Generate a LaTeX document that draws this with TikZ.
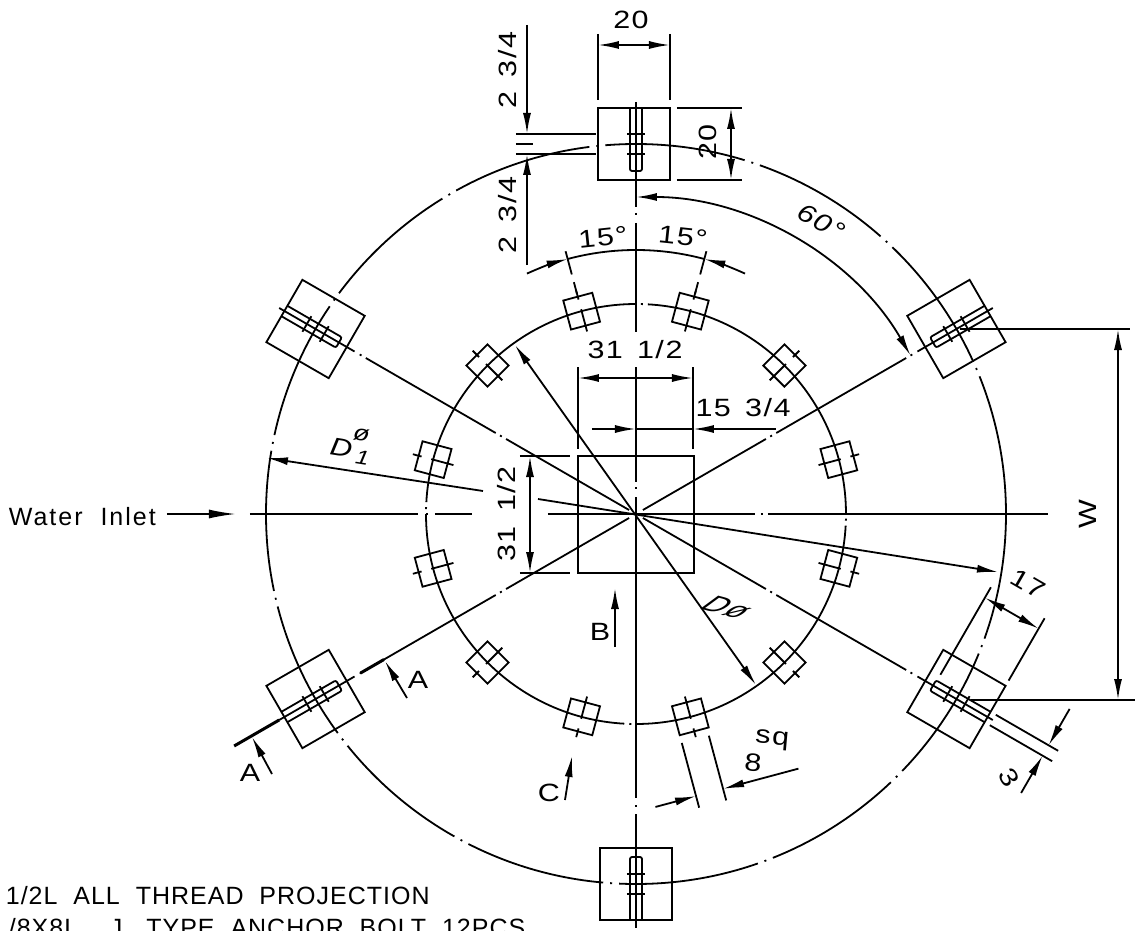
\documentclass[tikz,border=0pt]{standalone}
\usepackage{fontspec}
\setmainfont[FakeStretch=1.22,LetterSpace=6]{Liberation Sans}
\newfontfamily\notefont[LetterSpace=4]{Liberation Sans}
\usetikzlibrary{arrows.meta}

\begin{document}
\begin{tikzpicture}[
  x=1pt, y=1pt,
  line width=1.8pt,
  font=\fontsize{25}{25}\selectfont,
  every node/.style={inner sep=0pt},
  dim/.style={-{Latex[length=21pt,width=8pt]}},
  dimboth/.style={{Latex[length=21pt,width=8pt]}-{Latex[length=21pt,width=8pt]}},
  dashdot/.style={dash pattern=on 141pt off 7pt on 2pt off 7pt},
  dashdotsmall/.style={dash pattern=on 318pt off 5pt on 2pt off 5pt},
  thickend/.style={line width=3pt},
  notetext/.style={anchor=west, font=\notefont\fontsize{25}{25}\selectfont}
]
\useasboundingbox (-636,-416) rectangle (500,514);
\clip (-636,-416) rectangle (500,514);

% circles
\draw[dashdot] (0,0) circle (370pt);
\draw[dashdotsmall] (0,0) circle (210pt);

% base plates
\foreach \ang/\off in {90/2,30/0,150/0,210/0,270/0,330/0}{
  \begin{scope}[rotate=\ang]
    \draw (334,\off-36) rectangle (406,\off+36);
    \draw[rounded corners=2pt] (406,6) -- (343,6) -- (343,-6) -- (406,-6);
    \draw (360,-9) -- (360,9) (380,-9) -- (380,9);
    \draw (325,0) -- (412,0);
  \end{scope}
}
% anchor bolts
\foreach \ang in {15,45,...,345}{
  \begin{scope}[rotate=\ang]
    \draw (195,-15) rectangle (225,15);
    \draw (189,0) -- (212,0) (222,0) -- (231,0);
  \end{scope}
}
% slanted centre lines
\foreach \ang in {30,150,210,330}{
  \draw (\ang:8) -- (\ang:150) (\ang:155) -- (\ang:157) (\ang:162) -- (\ang:312) (\ang:317) -- (\ang:319);
}
\draw[thickend] (210:291) -- (210:318) (210:412) -- (210:464);

% horizontal and vertical centre lines
\draw (-386,0) -- (-218,0) (-210,0) -- (-208,0) (-201,0) -- (-164,0);
\draw (-88,0) -- (119,0) (125,0) -- (127,0) (132,0) -- (412,0);
\draw (0,412) -- (0,307) (0,301) -- (0,299) (0,291) -- (0,182);
\draw (0,147) -- (0,32) (0,27) -- (0,25) (0,17) -- (0,-284);
\draw (0,-291) -- (0,-293) (0,-300) -- (0,-414);

% tank base
\draw (-58,58) rectangle (58,-59);

% 31 1/2 across
\draw (-58,147) -- (-58,65) (57,147) -- (57,65);
\draw[dimboth] (-58,136) -- (57,136);
\node (wide) at (-1,164) {31 \,1/2};
\draw[dim] (-44,85) -- (0,85);
\draw (0,85) -- (57,85);
\draw[dim] (140,85) -- (57,85);
\node (half) at (107,106) {15 \,3/4};

% 31 1/2 down
\draw (-116,58) -- (-66,58) (-116,-59) -- (-66,-59);
\draw[dimboth] (-106,58) -- (-106,-59);
\node[rotate=90] (deep) at (-129,0) {31 \,1/2};

% plate dimensions on top
\draw (-38,480) -- (-38,414) (34,480) -- (34,414);
\draw[dimboth] (-38,469) -- (34,469);
\node (platew) at (-5,494) {20};
\draw (41,406) -- (106,406) (41,334) -- (106,334);
\draw[dimboth] (95,406) -- (95,334);
\node[rotate=90] (plateh) at (72,372) {20};
\draw (-120,380) -- (-40,380) (-120,360) -- (-40,360) (-120,370) -- (-103,370);
\draw[dim] (-109,489) -- (-109,380);
\draw[dim] (-109,249) -- (-109,360);
\node[rotate=90] (upper) at (-128,444) {2 \,3/4};
\node[rotate=90] (lower) at (-128,299) {2 \,3/4};

% 15 degree and 60 degree arcs
\draw[dim] (114.4:264) arc[start angle=114.4, end angle=105, radius=264pt];
\draw (105:264) arc[start angle=105, end angle=75, radius=264pt];
\draw[dim] (65.6:264) arc[start angle=65.6, end angle=75, radius=264pt];
\draw (105:272) -- (105:248) (105:240) -- (105:228) (75:272) -- (75:248) (75:240) -- (75:228);
\node[rotate=6] (angl) at (-33,277) {15\textdegree};
\node[rotate=-6] (angr) at (47,277) {15\textdegree};
\draw[dimboth] (90:317) arc[start angle=90, end angle=30, radius=317pt];
\node[rotate=-28] (sixty) at (186,292) {\textit{60\textdegree}};

% diameters
\draw[dim] (-153,23) -- (-369,56);
\draw[dim] (-98,15) -- (362,-58);
\node[rotate=-9] (dia) at (-294,66) {\textit{D}};
\node[rotate=-9] (dione) at (-273,56) {\fontsize{20}{20}\selectfont\textit{1}};
\node[rotate=-9] (dislash) at (-274,79) {\fontsize{22}{22}\selectfont\textit{\o}};
\draw[dimboth] (-121,169) -- (120,-171);
\node[rotate=-15, xslant=.8, transform shape] (dib) at (91,-94) {D\o};

% W
\draw (324,185) -- (494,185) (335,-186) -- (499,-186);
\draw[dimboth] (482,185) -- (482,-186);
\node[rotate=90] (wlab) at (452,0) {W};

% 17 and 3
\begin{scope}[rotate=-30]
  \draw (344,13) -- (344,114) (406,42) -- (406,114);
  \draw[dimboth] (344,102) -- (406,102);
  \draw (412,6) -- (484,6) (412,-6) -- (484,-6);
  \draw[dim] (473,48) -- (473,6);
  \draw[dim] (473,-49) -- (473,-6);
\end{scope}
\node[rotate=-30] (seventeen) at (392,-70) {17};
\node[rotate=-60] (three) at (373,-264) {3};

% 8 sq
\begin{scope}[rotate=285]
  \draw (233,-15) -- (300,-15) (233,13) -- (300,13);
  \draw[dim] (288,-57) -- (288,-15);
  \draw[dim] (288,91) -- (288,13);
\end{scope}
\node[rotate=-5] (eight) at (117,-249) {8};
\node[rotate=-5] (sq) at (136,-226) {sq};

% section marks
\draw[dim] (-364,-260) -- (-384,-223);
\draw[dim] (-229,-184) -- (-251,-147);
\node (a1) at (-386,-259) {A};
\node (a2) at (-218,-166) {A};
\draw[dim] (-21,-133) -- (-21,-74);
\node (bmark) at (-36,-118) {B};
\draw[dim] (-71,-286) -- (-64,-242);
\node (cmark) at (-87,-279) {C};

% inlet and notes
\node[notetext] (inlet) at (-628,-3) {\addfontfeatures{LetterSpace=8}Water\ \ Inlet};
\draw[-{Latex[length=27pt,width=9pt]}] (-469,0) -- (-400,0);
\node[notetext] (note1) at (-631,-382) {1/2L\ \ ALL\ \ THREAD\ \ PROJECTION};
\node[notetext] (note2) at (-628,-414) {/8X8L\ \ \ \ J\ \ \ TYPE\ \ ANCHOR\ \ BOLT\ \ 12PCS};
\end{tikzpicture}
\end{document}
